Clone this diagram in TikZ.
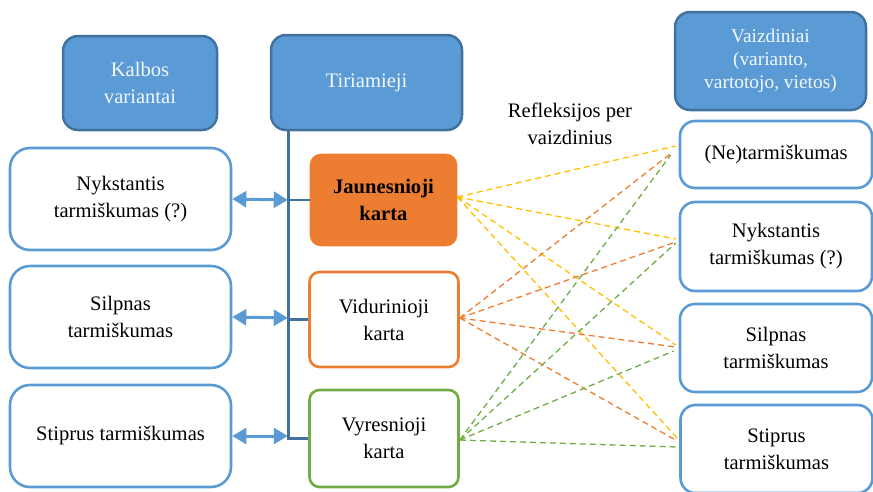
\documentclass[tikz,border=0pt]{standalone}
\usepackage{fontspec}
\setmainfont{Liberation Serif}
\usetikzlibrary{arrows.meta,calc}
\definecolor{hdrfill}{HTML}{5B9BD5}
\definecolor{hdrline}{HTML}{41719C}
\definecolor{boxline}{HTML}{5B9BD5}
\definecolor{orng}{HTML}{ED7D31}
\definecolor{grn}{HTML}{70AD47}
\definecolor{ylw}{HTML}{FFC000}
\tikzset{
  every node/.style={font=\fontsize{20.6}{27}\selectfont, align=center, inner sep=0pt},
  header/.style={draw=hdrline, fill=hdrfill, line width=2.5pt, rounded corners=15pt, text=white!92!hdrfill},
  leftbox/.style={draw=boxline, fill=white, line width=2.6pt, rounded corners=20pt, minimum width=221pt, minimum height=102pt},
  rightbox/.style={draw=boxline, fill=white, line width=2.6pt, rounded corners=15pt, minimum width=192pt},
  genbox/.style={line width=2.6pt, rounded corners=10pt, minimum width=149pt},
  spine/.style={draw=hdrline, line width=2.6pt},
  link/.style={draw=boxline, line width=3pt, {Triangle[length=14pt,width=16pt]}-{Triangle[length=14pt,width=16pt]}},
  refl/.style={line width=1.3pt, dash pattern=on 6pt off 4pt}
}
\begin{document}
\begin{tikzpicture}[x=1pt, y=-1pt]
\useasboundingbox (0,0) rectangle (873,491);

% column headers
\node[header, minimum width=154pt, minimum height=94pt] (kal) at (140,83) {Kalbos\\variantai};
\node[header, minimum width=191pt, minimum height=95pt] (tir) at (366.5,82.5) {Tiriamieji};
\node[header, minimum width=191pt, minimum height=98pt, font=\fontsize{19.4}{23}\selectfont] (vai) at (770.5,61) {Vaizdiniai\\(varianto,\\vartotojo, vietos)};

% language varieties
\node[leftbox] (l1) at (120.5,199) {Nykstantis\\tarmiškumas (?)};
\node[leftbox] (l2) at (120.5,317) {Silpnas\\tarmiškumas};
\node[leftbox] (l3) at (120.5,436) {Stiprus tarmiškumas};

% generations
\node[genbox, draw=orng, fill=orng, minimum width=145pt, minimum height=90pt, font=\fontsize{20.6}{27}\selectfont\bfseries] (m1) at (383.5,200) {Jaunesnioji\\karta};
\node[genbox, draw=orng, fill=white, minimum height=95pt] (m2) at (384,319.5) {Vidurinioji\\karta};
\node[genbox, draw=grn, fill=white, minimum height=97pt] (m3) at (384,438.5) {Vyresnioji\\karta};

% images
\node[rightbox, minimum height=67pt] (r1) at (776,154.5) {(Ne)tarmiškumas};
\node[rightbox, minimum height=89pt] (r2) at (776,246.5) {Nykstantis\\tarmiškumas (?)};
\node[rightbox, minimum height=88pt] (r3) at (776,348) {Silpnas\\tarmiškumas};
\node[rightbox, minimum height=88pt] (r4) at (776.5,449) {Stiprus\\tarmiškumas};

\node (lbl) at (570,123.5) {Refleksijos per\\vaizdinius};

% tree from the participants header
\coordinate (sp) at ($(tir.south west)+(19,0)$);
\draw[spine] (sp) -- (sp |- m3.west) -- (m3.west);
\draw[spine] (sp |- m1.west) -- (m1.west);
\draw[spine] (sp |- m2.west) -- (m2.west);

% links between varieties and the tree
\draw[link, shorten >=1pt] (l1.east) -- ($(sp |- l1.east)+(0,1)$);
\draw[link, shorten >=1pt] (l2.east) -- ($(sp |- l2.east)+(0,1)$);
\draw[link, shorten >=1pt] (l3.east) -- (sp |- l3.east);

% reflections: endpoints on the image boxes
\coordinate (y1) at ($(r1.west)+(-3,-8.5)$);
\coordinate (y2) at ($(r2.west)+(-3,-7.5)$);
\coordinate (y3) at ($(r3.west)+(-3,-3)$);
\coordinate (y4) at ($(r4.west)+(-2,-11)$);
\coordinate (o1) at ($(r1.west)+(-6,-2.5)$);
\coordinate (o2) at ($(r2.west)+(-3,-4.5)$);
\coordinate (o3) at ($(r3.west)+(-3,-1)$);
\coordinate (o4) at ($(r4.west)+(-2,-8)$);
\coordinate (g1) at ($(r1.west)+(-8,0.5)$);
\coordinate (g2) at ($(r2.west)+(-3,-3.5)$);
\coordinate (g3) at ($(r3.west)+(-5,3)$);
\coordinate (g4) at ($(r4.west)+(-2,-2)$);

\coordinate (sy) at ($(m1.east)+(0,-3)$);
\coordinate (so) at ($(m2.east)+(0,-1.5)$);
\coordinate (sg) at ($(m3.east)+(0,1.5)$);

\foreach \t in {1,2,3,4} {
  \draw[refl, draw=ylw] (sy) -- (y\t);
}
\foreach \t in {1,2,3,4} {
  \draw[refl, draw=orng] (so) -- (o\t);
}
\foreach \t in {1,2,3,4} {
  \draw[refl, draw=grn] (sg) -- (g\t);
}
\end{tikzpicture}
\end{document}
